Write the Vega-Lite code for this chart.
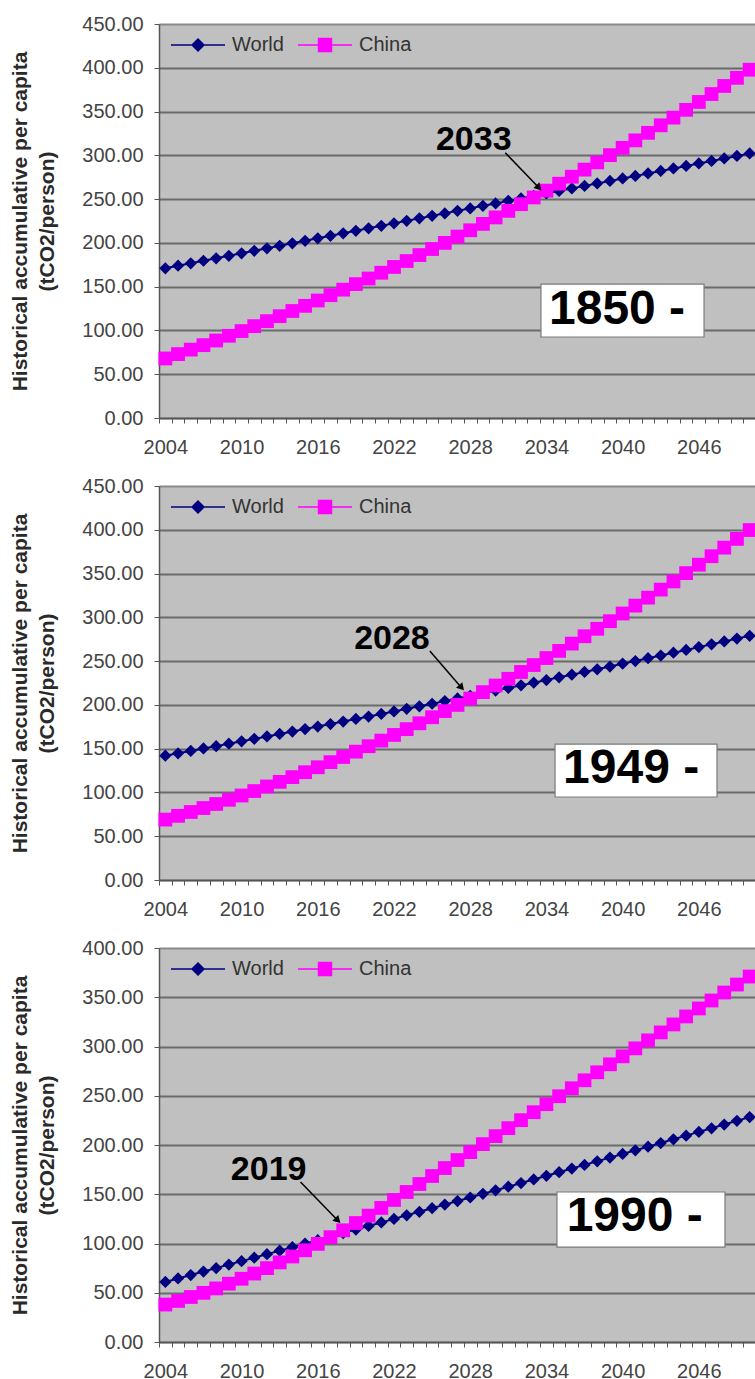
{
  "$schema": "https://vega.github.io/schema/vega-lite/v6.json",
  "background": "white",
  "padding": {"left": 8, "top": 13, "right": 0, "bottom": 0},
  "autosize": {"type": "pad"},
  "spacing": 68,
  "bounds": "flush",
  "resolve": {
    "scale": {"x": "independent", "y": "independent", "color": "independent"},
    "legend": {"color": "independent"}
  },
  "config": {
    "font": "Liberation Sans",
    "view": {"fill": "#C0C0C0", "stroke": "#858585", "strokeWidth": 1},
    "axisX": {"tickSize": 5, "tickColor": "#555555", "domainColor": "#555555", "domainWidth": 1.5, "labelFontSize": 20, "labelColor": "#444444", "labelPadding": 14, "grid": false, "labelOverlap": false, "labelFlush": false, "labelBound": false},
    "axisY": {"tickSize": 5, "tickColor": "#555555", "domainColor": "#555555", "domainWidth": 1.5, "labelFontSize": 20, "labelColor": "#444444", "labelPadding": 11, "grid": true, "gridWidth": 2, "titleFontSize": 21, "titleFontWeight": "bold", "titleColor": "#2a2a2a", "titleLineHeight": 27, "titleAngle": -90, "titleAlign": "center", "titleBaseline": "alphabetic", "titleX": -133, "titleY": 197, "labelOverlap": false},
    "legend": {"title": null, "orient": "none", "legendX": 11, "legendY": -7, "direction": "horizontal", "padding": 0, "symbolSize": 2916, "symbolType": "M-1,0L1,0", "symbolStrokeWidth": 1.5, "symbolOpacity": 1, "labelFontSize": 20, "labelColor": "#333333", "labelOffset": 6, "columnPadding": 11}
  },
  "datasets": {
    "s1850": [
      {"year":2004,"World":171.0,"China":68.0},{"year":2005,"World":173.9,"China":73.0},{"year":2006,"World":176.7,"China":78.1},{"year":2007,"World":179.6,"China":83.2},{"year":2008,"World":182.4,"China":88.5},{"year":2009,"World":185.3,"China":93.9},{"year":2010,"World":188.1,"China":99.3},{"year":2011,"World":191.0,"China":104.9},{"year":2012,"World":193.8,"China":110.6},{"year":2013,"World":196.7,"China":116.3},{"year":2014,"World":199.5,"China":122.2},{"year":2015,"World":202.4,"China":128.1},{"year":2016,"World":205.2,"China":134.2},{"year":2017,"World":208.1,"China":140.3},{"year":2018,"World":210.9,"China":146.6},{"year":2019,"World":213.8,"China":152.9},{"year":2020,"World":216.6,"China":159.3},{"year":2021,"World":219.5,"China":165.9},{"year":2022,"World":222.3,"China":172.5},{"year":2023,"World":225.2,"China":179.3},{"year":2024,"World":228.0,"China":186.1},{"year":2025,"World":230.9,"China":193.0},{"year":2026,"World":233.7,"China":200.0},{"year":2027,"World":236.6,"China":207.2},{"year":2028,"World":239.4,"China":214.4},{"year":2029,"World":242.3,"China":221.7},{"year":2030,"World":245.1,"China":229.1},{"year":2031,"World":248.0,"China":236.6},{"year":2032,"World":250.8,"China":244.2},{"year":2033,"World":253.7,"China":251.9},{"year":2034,"World":256.5,"China":259.7},{"year":2035,"World":259.4,"China":267.6},{"year":2036,"World":262.2,"China":275.6},{"year":2037,"World":265.1,"China":283.7},{"year":2038,"World":267.9,"China":291.9},{"year":2039,"World":270.8,"China":300.2},{"year":2040,"World":273.6,"China":308.6},{"year":2041,"World":276.5,"China":317.1},{"year":2042,"World":279.3,"China":325.7},{"year":2043,"World":282.2,"China":334.3},{"year":2044,"World":285.0,"China":343.1},{"year":2045,"World":287.9,"China":352.0},{"year":2046,"World":290.7,"China":361.0},{"year":2047,"World":293.6,"China":370.0},{"year":2048,"World":296.4,"China":379.2},{"year":2049,"World":299.3,"China":388.5},{"year":2050,"World":302.1,"China":397.8}
    ],
    "s1949": [
      {"year":2004,"World":142.0,"China":69.0},{"year":2005,"World":144.7,"China":73.3},{"year":2006,"World":147.4,"China":77.7},{"year":2007,"World":150.2,"China":82.2},{"year":2008,"World":152.9,"China":86.8},{"year":2009,"World":155.7,"China":91.6},{"year":2010,"World":158.4,"China":96.5},{"year":2011,"World":161.2,"China":101.6},{"year":2012,"World":164.0,"China":106.8},{"year":2013,"World":166.8,"China":112.1},{"year":2014,"World":169.6,"China":117.5},{"year":2015,"World":172.4,"China":123.1},{"year":2016,"World":175.3,"China":128.8},{"year":2017,"World":178.1,"China":134.6},{"year":2018,"World":181.0,"China":140.5},{"year":2019,"World":183.9,"China":146.6},{"year":2020,"World":186.7,"China":152.8},{"year":2021,"World":189.6,"China":159.2},{"year":2022,"World":192.5,"China":165.7},{"year":2023,"World":195.5,"China":172.3},{"year":2024,"World":198.4,"China":179.0},{"year":2025,"World":201.3,"China":185.9},{"year":2026,"World":204.3,"China":192.9},{"year":2027,"World":207.3,"China":200.0},{"year":2028,"World":210.3,"China":207.2},{"year":2029,"World":213.3,"China":214.6},{"year":2030,"World":216.3,"China":222.1},{"year":2031,"World":219.3,"China":229.8},{"year":2032,"World":222.3,"China":237.6},{"year":2033,"World":225.3,"China":245.5},{"year":2034,"World":228.4,"China":253.5},{"year":2035,"World":231.5,"China":261.7},{"year":2036,"World":234.5,"China":270.0},{"year":2037,"World":237.6,"China":278.4},{"year":2038,"World":240.7,"China":286.9},{"year":2039,"World":243.8,"China":295.6},{"year":2040,"World":247.0,"China":304.4},{"year":2041,"World":250.1,"China":313.4},{"year":2042,"World":253.3,"China":322.5},{"year":2043,"World":256.4,"China":331.7},{"year":2044,"World":259.6,"China":341.0},{"year":2045,"World":262.8,"China":350.5},{"year":2046,"World":266.0,"China":360.1},{"year":2047,"World":269.2,"China":369.8},{"year":2048,"World":272.4,"China":379.6},{"year":2049,"World":275.7,"China":389.6},{"year":2050,"World":278.9,"China":399.7}
    ],
    "s1990": [
      {"year":2004,"World":61.0,"China":38.0},{"year":2005,"World":64.5,"China":41.7},{"year":2006,"World":68.0,"China":45.7},{"year":2007,"World":71.5,"China":49.9},{"year":2008,"World":75.0,"China":54.4},{"year":2009,"World":78.6,"China":59.2},{"year":2010,"World":82.1,"China":64.2},{"year":2011,"World":85.6,"China":69.5},{"year":2012,"World":89.2,"China":75.0},{"year":2013,"World":92.7,"China":80.8},{"year":2014,"World":96.3,"China":86.8},{"year":2015,"World":99.9,"China":93.1},{"year":2016,"World":103.4,"China":99.6},{"year":2017,"World":107.0,"China":106.4},{"year":2018,"World":110.6,"China":113.4},{"year":2019,"World":114.2,"China":120.8},{"year":2020,"World":117.8,"China":128.3},{"year":2021,"World":121.4,"China":136.1},{"year":2022,"World":125.0,"China":144.2},{"year":2023,"World":128.6,"China":152.3},{"year":2024,"World":132.2,"China":160.4},{"year":2025,"World":135.8,"China":168.5},{"year":2026,"World":139.5,"China":176.6},{"year":2027,"World":143.1,"China":184.7},{"year":2028,"World":146.7,"China":192.8},{"year":2029,"World":150.4,"China":200.9},{"year":2030,"World":154.0,"China":209.0},{"year":2031,"World":157.7,"China":217.1},{"year":2032,"World":161.4,"China":225.2},{"year":2033,"World":165.0,"China":233.3},{"year":2034,"World":168.7,"China":241.4},{"year":2035,"World":172.4,"China":249.5},{"year":2036,"World":176.1,"China":257.6},{"year":2037,"World":179.8,"China":265.7},{"year":2038,"World":183.5,"China":273.8},{"year":2039,"World":187.2,"China":281.9},{"year":2040,"World":190.9,"China":290.0},{"year":2041,"World":194.6,"China":298.1},{"year":2042,"World":198.3,"China":306.2},{"year":2043,"World":202.0,"China":314.3},{"year":2044,"World":205.8,"China":322.4},{"year":2045,"World":209.5,"China":330.5},{"year":2046,"World":213.3,"China":338.6},{"year":2047,"World":217.0,"China":346.7},{"year":2048,"World":220.8,"China":354.8},{"year":2049,"World":224.6,"China":362.9},{"year":2050,"World":228.3,"China":371.0}
    ]
  },
  "vconcat": [
    {
      "width": 597, "height": 394,
      "encoding": {
        "x": {"field": "year", "type": "quantitative", "scale": {"domain": [2003.5, 2050.5], "nice": false, "zero": false},
          "axis": {"title": null, "values": [2003.5,2004.5,2005.5,2006.5,2007.5,2008.5,2009.5,2010.5,2011.5,2012.5,2013.5,2014.5,2015.5,2016.5,2017.5,2018.5,2019.5,2020.5,2021.5,2022.5,2023.5,2024.5,2025.5,2026.5,2027.5,2028.5,2029.5,2030.5,2031.5,2032.5,2033.5,2034.5,2035.5,2036.5,2037.5,2038.5,2039.5,2040.5,2041.5,2042.5,2043.5,2044.5,2045.5,2046.5,2047.5,2048.5,2049.5,2050.5],
            "labelExpr": "(datum.value - 2003.5) % 6 === 0 ? format(datum.value + 0.5, 'd') : ''", "labelOffset": 6.35}},
        "y": {"field": "value", "type": "quantitative", "scale": {"domain": [0, 450], "nice": false, "zero": true},
          "axis": {"values": [0,50,100,150,200,250,300,350,400,450], "format": ".2f", "title": ["Historical accumulative per capita", "(tCO2/person)"],
            "gridColor": {"condition": {"test": "datum.value >= 450", "value": "#8a8a8a"}, "value": "#6b6b6b"}}}
      },
      "layer": [
        {
          "data": {"name": "s1850"},
          "transform": [{"fold": ["World", "China"], "as": ["series", "value"]}],
          "encoding": {
            "color": {"field": "series", "type": "nominal", "scale": {"domain": ["World", "China"], "range": ["#000080", "#FF00FF"]},
              "legend": {"encode": {"symbols": {"update": {
                  "shape": {"signal": "datum.value === 'World' ? 'M-1,0L-0.22,0M0.22,0L1,0M0,-0.22L0.22,0L0,0.22L-0.22,0Z' : 'M-1,0L-0.24,0M0.24,0L1,0M-0.24,-0.24L0.24,-0.24L0.24,0.24L-0.24,0.24Z'"},
                  "fill": {"signal": "datum.value === 'World' ? '#000080' : '#FF00FF'"},
                  "stroke": {"signal": "datum.value === 'World' ? '#000080' : '#FF00FF'"},
                  "strokeWidth": {"value": 1.5},
                  "opacity": {"value": 1}}}}}}
          },
          "layer": [
            {"mark": {"type": "line", "strokeWidth": 2}},
            {"transform": [{"filter": "datum.series === 'World'"}], "mark": {"type": "point", "shape": "diamond", "filled": true, "opacity": 1, "size": 150, "strokeWidth": 0}},
            {"transform": [{"filter": "datum.series === 'China'"}], "mark": {"type": "point", "shape": "square", "filled": true, "opacity": 1, "size": 190, "strokeWidth": 0}}
          ]
        },
        {"data": {"values": [{"year": 2033.57, "value": 153.0, "year2": 2046.41, "value2": 92.5}]},
          "mark": {"type": "rect", "fill": "#FFFFFF", "stroke": "#7a7a7a", "strokeWidth": 1.2},
          "encoding": {"x2": {"field": "year2"}, "y2": {"field": "value2"}}},
        {"data": {"values": [{"year": 2039.56, "value": 122.8, "label": "1850 -"}]},
          "mark": {"type": "text", "fontSize": 48, "fontWeight": "bold", "color": "#000000", "align": "center", "baseline": "middle"},
          "encoding": {"text": {"field": "label"}}},
        {"data": {"values": [{"year": 2030.76, "value": 303.0, "year2": 2033.41, "value2": 262.9}]},
          "mark": {"type": "rule", "color": "#000000", "strokeWidth": 1.5},
          "encoding": {"x2": {"field": "year2"}, "y2": {"field": "value2"}}},
        {"data": {"values": [{"year": 2033.41, "value": 262.9}]},
          "mark": {"type": "point", "shape": "triangle-up", "filled": true, "color": "#000000", "size": 70, "angle": 136, "opacity": 1}},
        {"data": {"values": [{"year": 2028.28, "value": 317.5, "label": "2033"}]},
          "mark": {"type": "text", "fontSize": 34, "fontWeight": "bold", "color": "#000000", "align": "center", "baseline": "middle"},
          "encoding": {"text": {"field": "label"}}}
      ]
    },
    {
      "width": 597, "height": 394,
      "encoding": {
        "x": {"field": "year", "type": "quantitative", "scale": {"domain": [2003.5, 2050.5], "nice": false, "zero": false},
          "axis": {"title": null, "values": [2003.5,2004.5,2005.5,2006.5,2007.5,2008.5,2009.5,2010.5,2011.5,2012.5,2013.5,2014.5,2015.5,2016.5,2017.5,2018.5,2019.5,2020.5,2021.5,2022.5,2023.5,2024.5,2025.5,2026.5,2027.5,2028.5,2029.5,2030.5,2031.5,2032.5,2033.5,2034.5,2035.5,2036.5,2037.5,2038.5,2039.5,2040.5,2041.5,2042.5,2043.5,2044.5,2045.5,2046.5,2047.5,2048.5,2049.5,2050.5],
            "labelExpr": "(datum.value - 2003.5) % 6 === 0 ? format(datum.value + 0.5, 'd') : ''", "labelOffset": 6.35}},
        "y": {"field": "value", "type": "quantitative", "scale": {"domain": [0, 450], "nice": false, "zero": true},
          "axis": {"values": [0,50,100,150,200,250,300,350,400,450], "format": ".2f", "title": ["Historical accumulative per capita", "(tCO2/person)"],
            "gridColor": {"condition": {"test": "datum.value >= 450", "value": "#8a8a8a"}, "value": "#6b6b6b"}}}
      },
      "layer": [
        {
          "data": {"name": "s1949"},
          "transform": [{"fold": ["World", "China"], "as": ["series", "value"]}],
          "encoding": {
            "color": {"field": "series", "type": "nominal", "scale": {"domain": ["World", "China"], "range": ["#000080", "#FF00FF"]},
              "legend": {"encode": {"symbols": {"update": {
                  "shape": {"signal": "datum.value === 'World' ? 'M-1,0L-0.22,0M0.22,0L1,0M0,-0.22L0.22,0L0,0.22L-0.22,0Z' : 'M-1,0L-0.24,0M0.24,0L1,0M-0.24,-0.24L0.24,-0.24L0.24,0.24L-0.24,0.24Z'"},
                  "fill": {"signal": "datum.value === 'World' ? '#000080' : '#FF00FF'"},
                  "stroke": {"signal": "datum.value === 'World' ? '#000080' : '#FF00FF'"},
                  "strokeWidth": {"value": 1.5},
                  "opacity": {"value": 1}}}}}}
          },
          "layer": [
            {"mark": {"type": "line", "strokeWidth": 2}},
            {"transform": [{"filter": "datum.series === 'World'"}], "mark": {"type": "point", "shape": "diamond", "filled": true, "opacity": 1, "size": 150, "strokeWidth": 0}},
            {"transform": [{"filter": "datum.series === 'China'"}], "mark": {"type": "point", "shape": "square", "filled": true, "opacity": 1, "size": 190, "strokeWidth": 0}}
          ]
        },
        {"data": {"values": [{"year": 2034.68, "value": 155.3, "year2": 2047.43, "value2": 94.8}]},
          "mark": {"type": "rect", "fill": "#FFFFFF", "stroke": "#7a7a7a", "strokeWidth": 1.2},
          "encoding": {"x2": {"field": "year2"}, "y2": {"field": "value2"}}},
        {"data": {"values": [{"year": 2040.67, "value": 126.4, "label": "1949 -"}]},
          "mark": {"type": "text", "fontSize": 48, "fontWeight": "bold", "color": "#000000", "align": "center", "baseline": "middle"},
          "encoding": {"text": {"field": "label"}}},
        {"data": {"values": [{"year": 2024.82, "value": 261.5, "year2": 2027.32, "value2": 219.7}]},
          "mark": {"type": "rule", "color": "#000000", "strokeWidth": 1.5},
          "encoding": {"x2": {"field": "year2"}, "y2": {"field": "value2"}}},
        {"data": {"values": [{"year": 2027.32, "value": 219.7}]},
          "mark": {"type": "point", "shape": "triangle-up", "filled": true, "color": "#000000", "size": 70, "angle": 139, "opacity": 1}},
        {"data": {"values": [{"year": 2021.84, "value": 275.8, "label": "2028"}]},
          "mark": {"type": "text", "fontSize": 34, "fontWeight": "bold", "color": "#000000", "align": "center", "baseline": "middle"},
          "encoding": {"text": {"field": "label"}}}
      ]
    },
    {
      "width": 597, "height": 394,
      "encoding": {
        "x": {"field": "year", "type": "quantitative", "scale": {"domain": [2003.5, 2050.5], "nice": false, "zero": false},
          "axis": {"title": null, "values": [2003.5,2004.5,2005.5,2006.5,2007.5,2008.5,2009.5,2010.5,2011.5,2012.5,2013.5,2014.5,2015.5,2016.5,2017.5,2018.5,2019.5,2020.5,2021.5,2022.5,2023.5,2024.5,2025.5,2026.5,2027.5,2028.5,2029.5,2030.5,2031.5,2032.5,2033.5,2034.5,2035.5,2036.5,2037.5,2038.5,2039.5,2040.5,2041.5,2042.5,2043.5,2044.5,2045.5,2046.5,2047.5,2048.5,2049.5,2050.5],
            "labelExpr": "(datum.value - 2003.5) % 6 === 0 ? format(datum.value + 0.5, 'd') : ''", "labelOffset": 6.35}},
        "y": {"field": "value", "type": "quantitative", "scale": {"domain": [0, 400], "nice": false, "zero": true},
          "axis": {"values": [0,50,100,150,200,250,300,350,400], "format": ".2f", "title": ["Historical accumulative per capita", "(tCO2/person)"],
            "gridColor": {"condition": {"test": "datum.value >= 400", "value": "#8a8a8a"}, "value": "#6b6b6b"}}}
      },
      "layer": [
        {
          "data": {"name": "s1990"},
          "transform": [{"fold": ["World", "China"], "as": ["series", "value"]}],
          "encoding": {
            "color": {"field": "series", "type": "nominal", "scale": {"domain": ["World", "China"], "range": ["#000080", "#FF00FF"]},
              "legend": {"encode": {"symbols": {"update": {
                  "shape": {"signal": "datum.value === 'World' ? 'M-1,0L-0.22,0M0.22,0L1,0M0,-0.22L0.22,0L0,0.22L-0.22,0Z' : 'M-1,0L-0.24,0M0.24,0L1,0M-0.24,-0.24L0.24,-0.24L0.24,0.24L-0.24,0.24Z'"},
                  "fill": {"signal": "datum.value === 'World' ? '#000080' : '#FF00FF'"},
                  "stroke": {"signal": "datum.value === 'World' ? '#000080' : '#FF00FF'"},
                  "strokeWidth": {"value": 1.5},
                  "opacity": {"value": 1}}}}}}
          },
          "layer": [
            {"mark": {"type": "line", "strokeWidth": 2}},
            {"transform": [{"filter": "datum.series === 'World'"}], "mark": {"type": "point", "shape": "diamond", "filled": true, "opacity": 1, "size": 150, "strokeWidth": 0}},
            {"transform": [{"filter": "datum.series === 'China'"}], "mark": {"type": "point", "shape": "square", "filled": true, "opacity": 1, "size": 190, "strokeWidth": 0}}
          ]
        },
        {"data": {"values": [{"year": 2034.83, "value": 152.3, "year2": 2048.06, "value2": 96.4}]},
          "mark": {"type": "rect", "fill": "#FFFFFF", "stroke": "#7a7a7a", "strokeWidth": 1.2},
          "encoding": {"x2": {"field": "year2"}, "y2": {"field": "value2"}}},
        {"data": {"values": [{"year": 2040.95, "value": 126.9, "label": "1990 -"}]},
          "mark": {"type": "text", "fontSize": 48, "fontWeight": "bold", "color": "#000000", "align": "center", "baseline": "middle"},
          "encoding": {"text": {"field": "label"}}},
        {"data": {"values": [{"year": 2014.64, "value": 162.4, "year2": 2017.58, "value2": 123.4}]},
          "mark": {"type": "rule", "color": "#000000", "strokeWidth": 1.5},
          "encoding": {"x2": {"field": "year2"}, "y2": {"field": "value2"}}},
        {"data": {"values": [{"year": 2017.58, "value": 123.4}]},
          "mark": {"type": "point", "shape": "triangle-up", "filled": true, "color": "#000000", "size": 70, "angle": 136, "opacity": 1}},
        {"data": {"values": [{"year": 2012.13, "value": 174.3, "label": "2019"}]},
          "mark": {"type": "text", "fontSize": 34, "fontWeight": "bold", "color": "#000000", "align": "center", "baseline": "middle"},
          "encoding": {"text": {"field": "label"}}}
      ]
    }
  ]
}
